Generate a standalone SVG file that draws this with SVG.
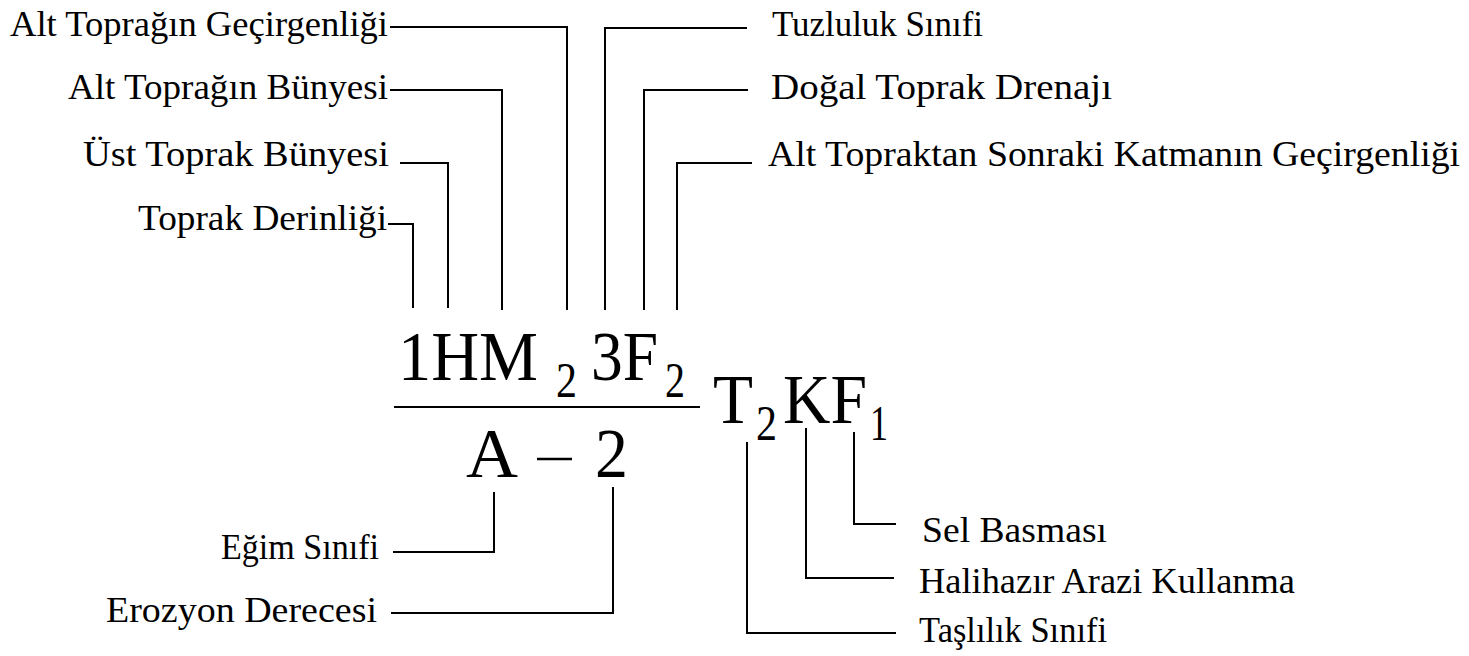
<svg xmlns="http://www.w3.org/2000/svg" width="1469" height="656" viewBox="0 0 1469 656">
<style>
.c{fill:none;stroke:#000;stroke-width:2}
</style>
<rect width="1469" height="656" fill="#fff"/>
<g id="connectors">
<polyline class="c" points="390,27 567,27 567,310"/>
<polyline class="c" points="390,90 502,90 502,310"/>
<polyline class="c" points="400,163 448,163 448,308"/>
<polyline class="c" points="388,224 413,224 413,308"/>
<polyline class="c" points="747,28 605,28 605,310"/>
<polyline class="c" points="748,90 644,90 644,310"/>
<polyline class="c" points="752,163 677,163 677,310"/>
<polyline class="c" points="393,552 494,552 494,492"/>
<polyline class="c" points="391,613 613,613 613,487"/>
<polyline class="c" points="896,524 854,524 854,432"/>
<polyline class="c" points="894,578 806,578 806,428"/>
<polyline class="c" points="896,633 747,633 747,442"/>
</g>
<g id="formula">
<text font-family="Liberation Serif" font-size="70" x="398" y="380" textLength="140" lengthAdjust="spacingAndGlyphs">1HM</text>
<text font-family="Liberation Serif" font-size="50" x="556" y="397" textLength="21" lengthAdjust="spacingAndGlyphs">2</text>
<text font-family="Liberation Serif" font-size="70" x="591" y="380" textLength="67" lengthAdjust="spacingAndGlyphs">3F</text>
<text font-family="Liberation Serif" font-size="50" x="665" y="397" textLength="20" lengthAdjust="spacingAndGlyphs">2</text>
<line x1="394" y1="407" x2="700" y2="407" stroke="#000" stroke-width="2"/>
<text font-family="Liberation Serif" font-size="70" x="713" y="423" textLength="40" lengthAdjust="spacingAndGlyphs">T</text>
<text font-family="Liberation Serif" font-size="50" x="756" y="440" textLength="21" lengthAdjust="spacingAndGlyphs">2</text>
<text font-family="Liberation Serif" font-size="70" x="783" y="423" textLength="84" lengthAdjust="spacingAndGlyphs">KF</text>
<text font-family="Liberation Serif" font-size="50" x="870" y="440" textLength="18" lengthAdjust="spacingAndGlyphs">1</text>
<text font-family="Liberation Serif" font-size="70" x="466" y="477" textLength="52" lengthAdjust="spacingAndGlyphs">A</text>
<line x1="537" y1="459" x2="572" y2="459" stroke="#000" stroke-width="2.5"/>
<text font-family="Liberation Serif" font-size="70" x="595" y="477" textLength="33" lengthAdjust="spacingAndGlyphs">2</text>
</g>
<g id="n-alt-gecirgenlik"><text font-family="Liberation Serif" font-size="36" x="10" y="36" textLength="378" lengthAdjust="spacingAndGlyphs">Alt Toprağın Geçirgenliği</text></g>
<g id="n-alt-bunye"><text font-family="Liberation Serif" font-size="36" x="68" y="99" textLength="320" lengthAdjust="spacingAndGlyphs">Alt Toprağın Bünyesi</text></g>
<g id="n-ust-bunye"><text font-family="Liberation Serif" font-size="36" x="83" y="166" textLength="306" lengthAdjust="spacingAndGlyphs">Üst Toprak Bünyesi</text></g>
<g id="n-derinlik"><text font-family="Liberation Serif" font-size="36" x="138" y="230" textLength="249" lengthAdjust="spacingAndGlyphs">Toprak Derinliği</text></g>
<g id="n-tuzluluk"><text font-family="Liberation Serif" font-size="36" x="772" y="36" textLength="211" lengthAdjust="spacingAndGlyphs">Tuzluluk Sınıfi</text></g>
<g id="n-drenaj"><text font-family="Liberation Serif" font-size="36" x="771" y="99" textLength="341" lengthAdjust="spacingAndGlyphs">Doğal Toprak Drenajı</text></g>
<g id="n-sonraki"><text font-family="Liberation Serif" font-size="36" x="768" y="166" textLength="692" lengthAdjust="spacingAndGlyphs">Alt Topraktan Sonraki Katmanın Geçirgenliği</text></g>
<g id="n-egim"><text font-family="Liberation Serif" font-size="36" x="221" y="559" textLength="158" lengthAdjust="spacingAndGlyphs">Eğim Sınıfi</text></g>
<g id="n-erozyon"><text font-family="Liberation Serif" font-size="36" x="106" y="622" textLength="271" lengthAdjust="spacingAndGlyphs">Erozyon Derecesi</text></g>
<g id="n-sel"><text font-family="Liberation Serif" font-size="36" x="922" y="542" textLength="185" lengthAdjust="spacingAndGlyphs">Sel Basması</text></g>
<g id="n-arazi"><text font-family="Liberation Serif" font-size="36" x="919" y="593" textLength="376" lengthAdjust="spacingAndGlyphs">Halihazır Arazi Kullanma</text></g>
<g id="n-taslilik"><text font-family="Liberation Serif" font-size="36" x="919" y="642" textLength="188" lengthAdjust="spacingAndGlyphs">Taşlılık Sınıfi</text></g>
</svg>
